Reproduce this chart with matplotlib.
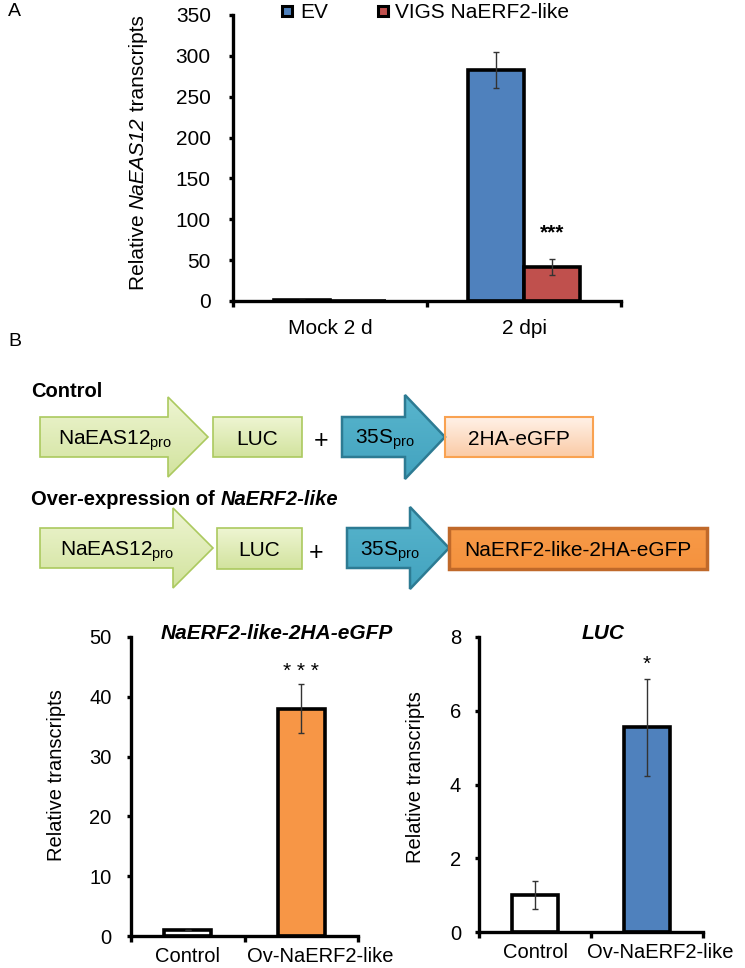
import numpy as np
import matplotlib
matplotlib.use("Agg")
import matplotlib.pyplot as plt
import matplotlib.transforms as mtransforms
from matplotlib.patches import Polygon
from matplotlib.colors import LinearSegmentedColormap
from matplotlib.lines import Line2D

# ---------------- data ----------------
# panel A: NaEAS12 transcripts
groups_a = ["Mock 2 d", "2 dpi"]
ev_vals = [1.0, 283.0]
ev_err = [0.0, 22.0]
vigs_vals = [0.5, 42.0]
vigs_err = [0.0, 10.0]
yticks_a = [0, 50, 100, 150, 200, 250, 300, 350]

# panel B: transient over-expression
cats_b = ["Control", "Ov-NaERF2-like"]
gfp_vals = [1.0, 38.0]
gfp_err = [0.0, 4.1]
luc_vals = [1.0, 5.55]
luc_err = [0.38, 1.32]
yticks_gfp = [0, 10, 20, 30, 40, 50]
yticks_luc = [0, 2, 4, 6, 8]

plt.rcParams["font.family"] = ["Liberation Sans", "DejaVu Sans"]
plt.rcParams["mathtext.fontset"] = "custom"
plt.rcParams["mathtext.rm"] = "Liberation Sans"
plt.rcParams["mathtext.it"] = "Liberation Sans:italic"
plt.rcParams["mathtext.bf"] = "Liberation Sans:bold"

W, H = 745, 968
fig = plt.figure(figsize=(W / 100, H / 100), dpi=100)


def axes_px(left, top, right, bottom):
    return fig.add_axes([left / W, 1 - bottom / H, (right - left) / W, (bottom - top) / H])


# ---------------- diagram (pixel coordinates) ----------------
dax = fig.add_axes([0, 0, 1, 1])


def shape(verts, c_top, c_bot, edge, lw):
    poly = Polygon(verts, closed=True, facecolor="none", edgecolor=edge, lw=lw, zorder=3)
    dax.add_patch(poly)
    xs = [v[0] for v in verts]
    ys = [v[1] for v in verts]
    cmap = LinearSegmentedColormap.from_list("g", [c_top, c_bot])
    im = dax.imshow(np.linspace(0, 1, 64).reshape(-1, 1), cmap=cmap,
                    extent=(min(xs), max(xs), max(ys), min(ys)), aspect="auto", zorder=2)
    im.set_clip_path(poly)


def arrow(x0, x1, xt, top, bot, htop, hbot):
    mid = (top + bot) / 2
    return [(x0, top), (x1, top), (x1, htop), (xt, mid), (x1, hbot), (x1, bot), (x0, bot)]


def box(x0, x1, top, bot):
    return [(x0, top), (x1, top), (x1, bot), (x0, bot)]


green = ("#eef5d2", "#d2e39e", "#abc95f", 1.2)
blue = ("#58b5cd", "#43a3bf", "#2d7b93", 1.8)
peach = ("#fff1e7", "#fbcba6", "#f9a251", 1.5)
orange = ("#f79a48", "#f5923e", "#c0692a", 2.5)

# row 1 (control)
shape(arrow(40, 168, 208, 417, 457, 397, 477), *green)
shape(box(213, 302, 417, 457), *green)
shape(arrow(342, 405, 445, 417, 457, 395, 479), *blue)
shape(box(445, 593, 417, 457), *peach)
# row 2 (over-expression)
shape(arrow(40, 173, 213, 528, 568, 508, 588), *green)
shape(box(217, 302, 528, 569), *green)
shape(arrow(347, 410, 449, 528, 568, 507, 589), *blue)
shape(box(449, 707, 528, 569), *orange)

dax.set_xlim(0, W)
dax.set_ylim(H, 0)
dax.axis("off")

fs_d = 15
pro = r"$_{\mathregular{pro}}$"
dax.text(31, 397, "Control", fontsize=14.5, fontweight="bold", va="baseline")
t1 = dax.text(31, 505, "Over-expression of ", fontsize=14.5, fontweight="bold", va="baseline")
dax.annotate("NaERF2-like", xy=(1, 0), xycoords=t1, fontsize=14.5, fontweight="bold",
             fontstyle="italic", va="bottom", ha="left")

dax.text(115, 445, "NaEAS12" + pro, fontsize=fs_d, ha="center", va="baseline")
dax.text(257.5, 445, "LUC", fontsize=fs_d, ha="center", va="baseline")
dax.text(321, 448, "+", fontsize=18, ha="center", va="baseline")
dax.text(385, 444, "35S" + pro, fontsize=fs_d, ha="center", va="baseline")
dax.text(519, 445, "2HA-eGFP", fontsize=fs_d, ha="center", va="baseline")

dax.text(117.5, 556, "NaEAS12" + pro, fontsize=fs_d, ha="center", va="baseline")
dax.text(259.5, 556, "LUC", fontsize=fs_d, ha="center", va="baseline")
dax.text(316, 560, "+", fontsize=18, ha="center", va="baseline")
dax.text(389.5, 556, "35S" + pro, fontsize=fs_d, ha="center", va="baseline")
dax.text(578, 556, "NaERF2-like-2HA-eGFP", fontsize=fs_d, ha="center", va="baseline")

fig.text(8 / W, 1 - 12 / H, "A", fontsize=14, ha="left", va="center")
fig.text(8 / W, 1 - 342 / H, "B", fontsize=14, ha="left", va="center")

# panel A y label in three pieces so the gene name (digits too) is italic
p1 = dax.text(138, 290, "Relative ", rotation=90, fontsize=15, ha="center", va="bottom")
p2 = dax.annotate("NaEAS12", xy=(0.5, 1), xycoords=p1, rotation=90, fontsize=15,
                  fontstyle="italic", ha="center", va="bottom")
dax.annotate(" transcripts", xy=(0.5, 1), xycoords=p2, rotation=90, fontsize=15,
             ha="center", va="bottom")

err_kw = dict(ecolor="#333333", elinewidth=1.0, capsize=2.5, capthick=1.0)


def style_axes(ax, lw=2.4):
    for s in ["top", "right"]:
        ax.spines[s].set_visible(False)
    for s in ["left", "bottom"]:
        ax.spines[s].set_linewidth(lw)
        ax.spines[s].set_color("black")


# ---------------- panel A ----------------
axA = axes_px(233, 15, 621, 301)
x = np.arange(len(groups_a))
w = 0.29
axA.bar(x - w / 2, ev_vals, w, color="#4f81bd", edgecolor="black", lw=2.6,
        yerr=ev_err, error_kw=err_kw, label="EV")
axA.bar(x + w / 2, vigs_vals, w, color="#c0504d", edgecolor="black", lw=2.6,
        yerr=vigs_err, error_kw=err_kw, label="VIGS NaERF2-like")
axA.annotate("***", xy=(x[1] + w / 2, vigs_vals[1] + vigs_err[1]), xytext=(0, 14.5),
             textcoords="offset points", ha="center", va="baseline", fontsize=15, fontweight="bold")
axA.set_xlim(-0.5, 1.5)
axA.set_ylim(0, 350)
axA.set_yticks(yticks_a)
axA.set_xticks([-0.5, 0.5, 1.5])
axA.set_xticklabels([])
axA.set_xticks(x, labels=groups_a, minor=True)
axA.tick_params(axis="x", which="minor", length=0, pad=13, labelsize=15)
axA.tick_params(axis="x", which="major", length=4, width=2.4, direction="out")
axA.tick_params(axis="y", length=3, width=2.4, pad=13, labelsize=15)
style_axes(axA)

handles = [Line2D([], [], marker="s", ls="none", markersize=7.5, mfc="#4f81bd",
                  mec="black", mew=2.2),
           Line2D([], [], marker="s", ls="none", markersize=7.5, mfc="#c0504d",
                  mec="black", mew=2.2)]
axA.legend(handles, ["EV", "VIGS NaERF2-like"], loc="upper left",
           bbox_to_anchor=(280 / W, 1 - 3 / H), bbox_transform=fig.transFigure,
           frameon=False, ncol=2, handlelength=0.7, handletextpad=0.25,
           columnspacing=2.3, borderpad=0, borderaxespad=0, fontsize=15)


# ---------------- panel B bar charts ----------------
def small_chart(ax, vals, errs, color, yticks, title, tx, star, star_off, ypad, shift):
    xb = np.arange(len(cats_b))
    wb = 0.416
    ax.bar(xb, vals, wb, color=["white", color], edgecolor="black", lw=2.6,
           yerr=errs, error_kw=err_kw)
    ax.annotate(star, xy=(xb[1], vals[1] + errs[1]), xytext=(0, star_off),
                textcoords="offset points", ha="center", va="baseline", fontsize=15)
    ax.set_xlim(-0.5, 1.5)
    ax.set_ylim(yticks[0], yticks[-1])
    ax.set_yticks(yticks)
    ax.set_xticks([-0.5, 0.5, 1.5])
    ax.set_xticklabels([])
    ax.set_xticks(xb, labels=cats_b, minor=True)
    ax.tick_params(axis="x", which="minor", length=0, pad=8, labelsize=14.5)
    ax.tick_params(axis="x", which="major", length=4, width=2.4, direction="out")
    ax.tick_params(axis="y", length=3, width=2.4, pad=ypad, labelsize=14.5)
    lab = ax.get_xticklabels(minor=True)[1]
    lab.set_transform(lab.get_transform() +
                      mtransforms.ScaledTranslation(shift / 100, 0, fig.dpi_scale_trans))
    style_axes(ax)
    ax.text(tx, 1.013, title, transform=ax.transAxes, ha="center", va="center",
            fontsize=15, fontweight="bold", fontstyle="italic")
    ax.set_ylabel("Relative transcripts", fontsize=14.5, va="center")


axL = axes_px(131, 637, 358, 936)
small_chart(axL, gfp_vals, gfp_err, "#f79646", yticks_gfp, "NaERF2-like-2HA-eGFP",
            0.644, "* * *", 5.5, 11, 19)
axL.yaxis.set_label_coords(-0.33, 0.538)

axR = axes_px(479, 637, 703, 932)
small_chart(axR, luc_vals, luc_err, "#4f81bd", yticks_luc, "LUC",
            0.554, "*", 6.5, 10, 13)
axR.yaxis.set_label_coords(-0.283, 0.525)

fig.savefig("out.png", dpi=100)
